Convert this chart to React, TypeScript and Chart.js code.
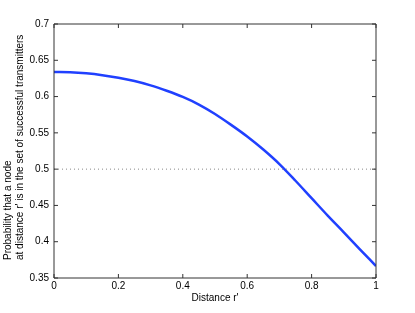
import React, { useEffect, useRef } from 'react';
import { Chart, registerables } from 'chart.js';

Chart.register(...registerables);

const distances = [0, 0.05, 0.1, 0.15, 0.2, 0.25, 0.3, 0.35, 0.4, 0.45, 0.5, 0.55, 0.6, 0.65, 0.7, 0.75, 0.8, 0.85, 0.9, 0.95, 1];
const probabilities = [0.634, 0.6335, 0.632, 0.6295, 0.626, 0.6215, 0.6155, 0.608, 0.5995, 0.589, 0.576, 0.561, 0.545, 0.527, 0.507, 0.484, 0.46, 0.436, 0.413, 0.3895, 0.3665];
const thresholdX = [0, 1];
const thresholdY = [0.5, 0.5];

const xTicks = [0, 0.2, 0.4, 0.6, 0.8, 1];
const xTickLabels = ['0', '0.2', '0.4', '0.6', '0.8', '1'];
const yTicks = [0.35, 0.4, 0.45, 0.5, 0.55, 0.6, 0.65, 0.7];
const yTickLabels = ['0.35', '0.4', '0.45', '0.5', '0.55', '0.6', '0.65', '0.7'];

const xTitle = "Distance r'";
const yTitle = ['Probability that a node', "at distance r' is in the set of successful transmitters"];

const FONT = 'Liberation Sans, Arial, Helvetica, sans-serif';

const boxPlugin = {
  id: 'matlabBox',
  afterDatasetsDraw(chart: any) {
    const { ctx, chartArea } = chart;
    const { left, right, top, bottom } = chartArea;
    const xs = chart.scales.x;
    const ys = chart.scales.y;
    const tl = 4;
    ctx.save();
    ctx.strokeStyle = '#333';
    ctx.lineWidth = 1;
    ctx.beginPath();
    ctx.rect(left, top, right - left, bottom - top);
    for (const v of xTicks) {
      const px = xs.getPixelForValue(v);
      ctx.moveTo(px, bottom);
      ctx.lineTo(px, bottom - tl);
      ctx.moveTo(px, top);
      ctx.lineTo(px, top + tl);
    }
    for (const v of yTicks) {
      const py = ys.getPixelForValue(v);
      ctx.moveTo(left, py);
      ctx.lineTo(left + tl, py);
      ctx.moveTo(right, py);
      ctx.lineTo(right - tl, py);
    }
    ctx.stroke();
    ctx.restore();
  },
  afterDraw(chart: any) {
    const { ctx } = chart;
    const baselines = [11.3, 23.3];
    ctx.save();
    ctx.fillStyle = '#000';
    ctx.font = `10px ${FONT}`;
    ctx.textAlign = 'left';
    ctx.textBaseline = 'alphabetic';
    yTitle.forEach((line, i) => {
      ctx.save();
      ctx.translate(baselines[i], 260);
      ctx.rotate(-Math.PI / 2);
      ctx.fillText(line, 0, 0);
      ctx.restore();
    });
    ctx.restore();
  },
};

export default function App() {
  const ref = useRef<HTMLCanvasElement | null>(null);

  useEffect(() => {
    if (!ref.current) return;
    const chart = new Chart(ref.current, {
      type: 'line',
      data: {
        datasets: [
          {
            data: thresholdX.map((x, i) => ({ x, y: thresholdY[i] })),
            borderColor: '#888',
            borderWidth: 1,
            borderDash: [1, 3],
            pointRadius: 0,
            fill: false,
          },
          {
            data: distances.map((x, i) => ({ x, y: probabilities[i] })),
            borderColor: '#2040ff',
            borderWidth: 2.5,
            pointRadius: 0,
            fill: false,
            cubicInterpolationMode: 'monotone',
          },
        ],
      },
      plugins: [boxPlugin],
      options: {
        animation: false,
        responsive: false,
        maintainAspectRatio: false,
        layout: { padding: { left: 0, top: 24, right: 39, bottom: 0 } },
        plugins: { legend: { display: false }, tooltip: { enabled: false } },
        scales: {
          x: {
            type: 'linear',
            min: 0,
            max: 1,
            afterFit: (s: any) => { s.height = 35; },
            afterBuildTicks: (s: any) => { s.ticks = xTicks.map((v) => ({ value: v })); },
            grid: { display: false, drawTicks: false },
            border: { display: false },
            ticks: {
              padding: 2,
              color: '#000',
              maxRotation: 0,
              font: { family: FONT, size: 10 },
              callback: (_v: any, i: number) => xTickLabels[i],
            },
            title: {
              display: true,
              text: xTitle,
              color: '#000',
              font: { family: FONT, size: 10 },
              padding: { top: 0, bottom: 9 },
            },
          },
          y: {
            type: 'linear',
            min: 0.35,
            max: 0.7,
            afterFit: (s: any) => { s.width = 54; },
            afterBuildTicks: (s: any) => { s.ticks = yTicks.map((v) => ({ value: v })); },
            grid: { display: false, drawTicks: false },
            border: { display: false },
            ticks: {
              padding: 5,
              color: '#000',
              font: { family: FONT, size: 10 },
              callback: (_v: any, i: number) => yTickLabels[i],
            },
            title: { display: false },
          },
        },
      },
    });
    return () => chart.destroy();
  }, []);

  return (
    <div style={{ position: 'absolute', left: 0, top: 0, width: 415, height: 313, background: '#fff' }}>
      <canvas ref={ref} width={415} height={313} />
    </div>
  );
}
